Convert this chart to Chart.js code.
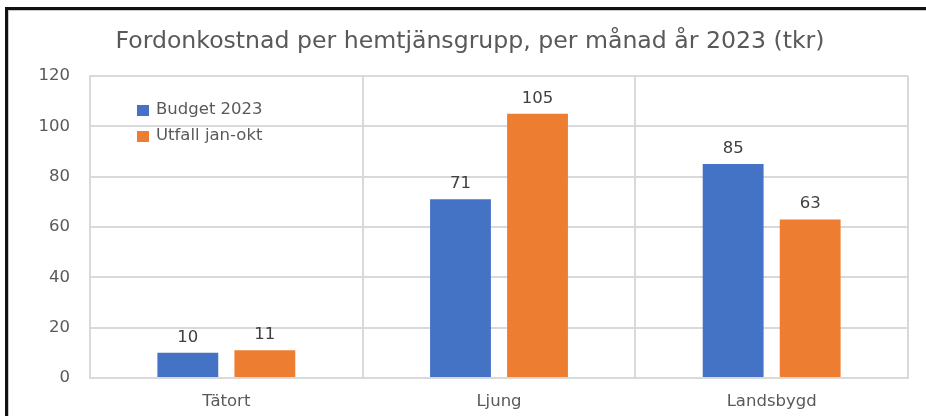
<!DOCTYPE html>
<html lang="sv">
<head>
  <meta charset="UTF-8">
  <title>Fordonkostnad per hemtjänsgrupp</title>
  <script src="https://cdn.jsdelivr.net/npm/chart.js"></script>
  <style>
    html, body {
      margin: 0;
      padding: 0;
      background: #fff;
      overflow: hidden;
    }
    #wrap {
      position: relative;
      width: 926px;
      height: 416px;
    }
    #frame {
      position: absolute;
      left: 5px;
      top: 7px;
      width: 940px;
      height: 430px;
      border-left: 3px solid #111;
      border-top: 3px solid #111;
      box-shadow: inset 1px 1px 0 #c8c8c8;
      pointer-events: none;
    }
    canvas {
      position: absolute;
      left: 0;
      top: 0;
    }
  </style>
</head>
<body>
  <div id="wrap">
    <canvas id="chart" width="926" height="416"></canvas>
    <div id="frame"></div>
  </div>
  <script>
    const categories = ['Tätort', 'Ljung', 'Landsbygd'];
    const budget = [10, 71, 85];
    const utfall = [11, 105, 63];
    const seriesNames = ['Budget 2023', 'Utfall jan-okt'];
    const colors = ['#4472c4', '#ed7d31'];

    const textColor = '#595959';
    const gridColor = '#d9d9d9';
    const font = 'DejaVu Sans';
    const fontSize = 16.5;

    // värden ovanför staplarna
    const valueLabels = {
      id: 'valueLabels',
      afterDatasetsDraw(chart) {
        const ctx = chart.ctx;
        ctx.save();
        ctx.font = fontSize + 'px "' + font + '"';
        ctx.fillStyle = '#404040';
        ctx.textAlign = 'center';
        ctx.textBaseline = 'bottom';
        chart.data.datasets.forEach((ds, i) => {
          chart.getDatasetMeta(i).data.forEach((bar, j) => {
            ctx.fillText(ds.data[j], bar.x, bar.y - 7);
          });
        });
        ctx.restore();
      }
    };

    // legend inne i diagramytan
    const innerLegend = {
      id: 'innerLegend',
      afterDraw(chart) {
        const ctx = chart.ctx;
        ctx.save();
        ctx.font = fontSize + 'px "' + font + '"';
        ctx.textBaseline = 'middle';
        chart.data.datasets.forEach((ds, i) => {
          const y = 110 + i * 26;
          ctx.fillStyle = ds.backgroundColor;
          ctx.fillRect(137, y - 5, 12, 11);
          ctx.fillStyle = textColor;
          ctx.fillText(ds.label, 156, y);
        });
        ctx.restore();
      }
    };

    new Chart(document.getElementById('chart'), {
      type: 'bar',
      data: {
        labels: categories,
        datasets: [
          { label: seriesNames[0], data: budget, backgroundColor: colors[0] },
          { label: seriesNames[1], data: utfall, backgroundColor: colors[1] }
        ]
      },
      options: {
        responsive: false,
        animation: false,
        categoryPercentage: 0.565,
        barPercentage: 0.79,
        layout: { padding: { left: 32, right: 18, top: 0, bottom: 0 } },
        plugins: {
          legend: { display: false },
          tooltip: { enabled: false },
          title: {
            display: true,
            text: 'Fordonkostnad per hemtjänsgrupp, per månad år 2023 (tkr)',
            color: textColor,
            font: { family: font, size: 23.6, weight: 'normal' },
            padding: { top: 28, bottom: 19.7 }
          }
        },
        scales: {
          x: {
            grid: { color: gridColor, lineWidth: 2, drawTicks: false, offset: true },
            border: { color: gridColor, width: 2 },
            ticks: { color: textColor, font: { family: font, size: fontSize }, padding: 14 },
            afterFit(scale) { scale.height = 38; }
          },
          y: {
            min: 0,
            max: 120,
            grid: { color: gridColor, lineWidth: 2, drawTicks: false },
            border: { color: gridColor, width: 2 },
            ticks: { stepSize: 20, color: textColor, font: { family: font, size: fontSize }, padding: 20 },
            afterFit(scale) { scale.width = 58; }
          }
        }
      },
      plugins: [valueLabels, innerLegend]
    });
  </script>
</body>
</html>
